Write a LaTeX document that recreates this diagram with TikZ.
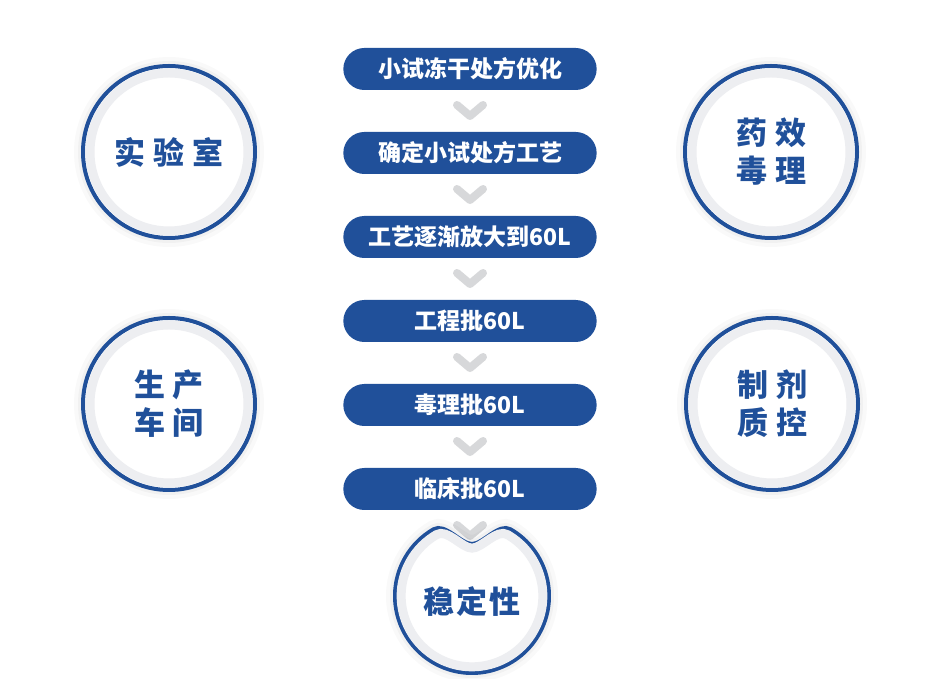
\documentclass[tikz,border=0pt]{standalone}
\usepackage{fontspec}
\newfontfamily\cjk{Noto Sans CJK SC}
\usetikzlibrary{shapes.misc}
\definecolor{deepblue}{HTML}{20509A}
\definecolor{ringgray}{HTML}{EDEEF1}
\definecolor{chevgray}{HTML}{D7D8DA}
\tikzset{
  pill/.style={rounded rectangle, fill=deepblue, minimum width=260pt, minimum height=42pt,
    text=white, font=\cjk\bfseries\fontsize{23}{23}\selectfont},
  glow/.style={preaction={draw=black, draw opacity=0.025, line width=18pt},
    preaction={draw=black, draw opacity=0.03, line width=10pt}},
  badge/.style={circle, minimum size=172pt, draw=deepblue, line width=4pt, fill=white, glow,
    text=deepblue, align=center, font=\cjk\bfseries\fontsize{31}{38}\selectfont},
  ring/.style={ringgray, line width=9pt},
  chev/.style={chevgray, line width=8pt, line cap=round, line join=round}
}
\begin{document}
\begin{tikzpicture}[x=1pt,y=1pt]
  \useasboundingbox (0,0) rectangle (938,679);
  % chevrons between the steps
  \foreach \y in {569,485,401,317,233,149}
    \draw[chev] (457,\y+5) -- (470,\y-6) -- (483,\y+5);
  % steps
  \foreach \i/\y/\t in {1/610/小试冻干处方优化, 2/526/确定小试处方工艺, 3/442/工艺逐渐放大到60L,
      4/358/工程批60L, 5/274/毒理批60L, 6/190/临床批60L}
    \node[pill] (p\i) at (470,\y) {\t};
  % side circles
  \node[badge] (lab) at (169,527) {实\hspace{8pt}验\hspace{8pt}室};
  \node[badge] (pharm) at (771,527) {药\hspace{8pt}效\\毒\hspace{8pt}理};
  \node[badge] (plant) at (169,275) {生\hspace{8pt}产\\车\hspace{8pt}间};
  \node[badge] (qc) at (772,275) {制\hspace{8pt}剂\\质\hspace{8pt}控};
  \foreach \n in {lab,pharm,plant,qc}
    \draw[ring] (\n.center) circle[radius=79];
  % bottom circle with notch
  \draw[deepblue, line width=4pt, fill=white, glow] (510.5,149.7)
    arc[start angle=60, end angle=-240, radius=77]
    .. controls (445,156.5) and (461,135) .. (472,135)
    .. controls (483,135) and (499,156.5) .. (510.5,149.7) -- cycle;
  \draw[ring, scale around={0.92:(472,83)}] (510.5,149.7)
    arc[start angle=60, end angle=-240, radius=77]
    .. controls (445,156.5) and (461,135) .. (472,135)
    .. controls (483,135) and (499,156.5) .. (510.5,149.7) -- cycle;
  \node[text=deepblue, font=\cjk\bfseries\fontsize{31}{38}\selectfont] (stab) at (472,77)
    {稳\hspace{2pt}定\hspace{2pt}性};
\end{tikzpicture}
\end{document}
